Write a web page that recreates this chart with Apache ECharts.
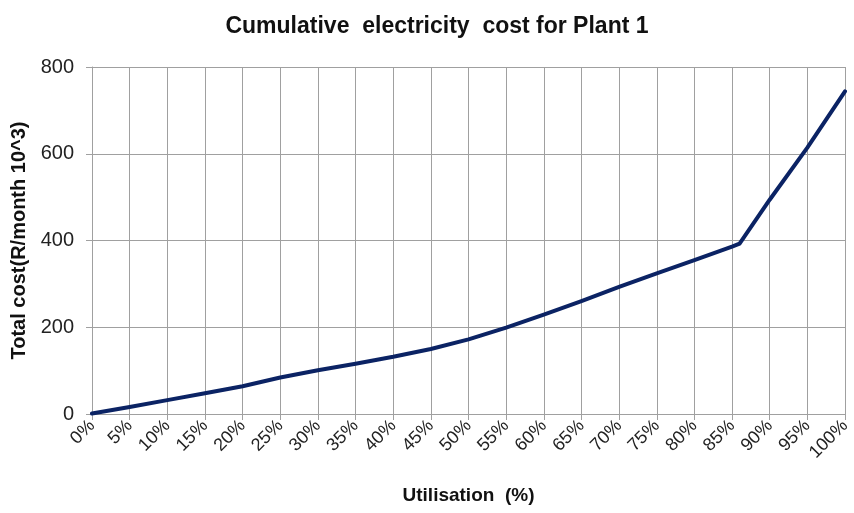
<!DOCTYPE html>
<html>
<head>
<meta charset="utf-8">
<script src="https://cdn.jsdelivr.net/npm/echarts@6/dist/echarts.min.js"></script>
</head>
<body style="margin:0;background:#fff;">
<div id="container" style="width:854px;height:513px;"></div>
<script>
// utilisation (%) and cumulative cost (R/month 10^3)
const utilisation = [0, 5, 10, 15, 20, 25, 30, 35, 40, 45, 50, 55, 60, 65, 70, 75, 80, 85, 86, 90, 95, 100];
const totalCost = [1, 16, 32, 48, 64, 84, 101, 116, 132, 150, 172, 199, 229, 260, 293, 324, 355, 386, 393, 494, 614, 744];

const chart = echarts.init(document.getElementById('container'));
const axisGray = '#a0a0a0';
const font = 'Liberation Sans, Arial, sans-serif';

const option = {
    animation: false,
    title: {
        text: 'Cumulative  electricity  cost for Plant 1',
        left: 432,
        textAlign: 'center',
        top: 10,
        textStyle: { fontFamily: font, fontSize: 23, fontWeight: 'bold', color: '#111' }
    },
    grid: { left: 92, right: 9, top: 67, bottom: 99, containLabel: false, outerBoundsMode: 'none' },
    xAxis: {
        type: 'value',
        min: 0,
        max: 100,
        interval: 5,
        name: 'Utilisation  (%)',
        nameLocation: 'middle',
        nameGap: 72,
        nameTextStyle: { fontFamily: font, fontSize: 19, fontWeight: 'bold', color: '#111' },
        axisLine: { lineStyle: { color: axisGray } },
        axisTick: { show: true, length: 6, lineStyle: { color: axisGray } },
        axisLabel: {
            rotate: 45,
            margin: 9,
            fontFamily: font,
            fontSize: 18,
            color: '#222',
            formatter: function (v) { return v + '%'; }
        },
        splitLine: { show: true, lineStyle: { color: axisGray, width: 1 } }
    },
    yAxis: {
        type: 'value',
        min: 0,
        max: 800,
        interval: 200,
        name: 'Total cost(R/month 10^3)',
        nameLocation: 'middle',
        nameGap: 61,
        nameTextStyle: { fontFamily: font, fontSize: 20, fontWeight: 'bold', color: '#111' },
        axisLine: { show: true, lineStyle: { color: axisGray } },
        axisTick: { show: true, length: 6, lineStyle: { color: axisGray } },
        axisLabel: { fontFamily: font, fontSize: 20, color: '#222', margin: 18 },
        splitLine: { show: true, lineStyle: { color: axisGray, width: 1 } }
    },
    series: [{
        type: 'line',
        data: utilisation.map(function (u, i) { return [u, totalCost[i]]; }),
        showSymbol: false,
        lineStyle: { color: '#0b2364', width: 4, cap: 'round', join: 'round' },
        itemStyle: { color: '#0b2364' }
    }]
};
chart.setOption(option);
</script>
</body>
</html>
